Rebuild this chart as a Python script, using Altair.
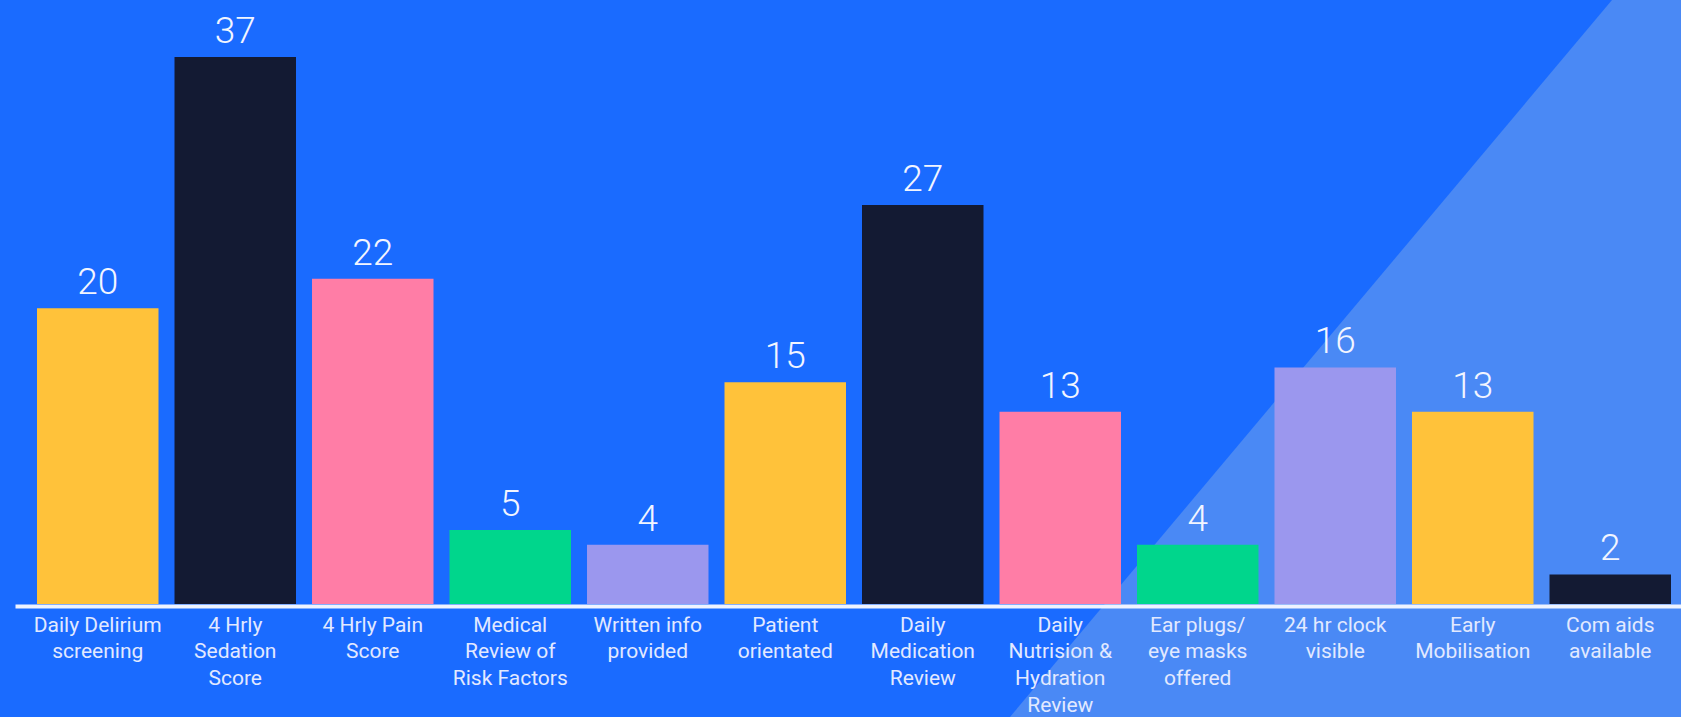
import altair as alt
import pandas as pd

# --- chart data ---
labels = [
    "Daily Delirium|screening",
    "4 Hrly|Sedation|Score",
    "4 Hrly Pain|Score",
    "Medical|Review of|Risk Factors",
    "Written info|provided",
    "Patient|orientated",
    "Daily|Medication|Review",
    "Daily|Nutrision &|Hydration|Review",
    "Ear plugs/|eye masks|offered",
    "24 hr clock|visible",
    "Early|Mobilisation",
    "Com aids|available",
]
values = [20, 37, 22, 5, 4, 15, 27, 13, 4, 16, 13, 2]
bar_colors = [
    "#FFC23A", "#131A33", "#FF7DA6", "#00D68C", "#9B97EE", "#FFC23A",
    "#131A33", "#FF7DA6", "#00D68C", "#9B97EE", "#FFC23A", "#131A33",
]

# decorative lighter triangle in the background (pixel space)
deco_x = [995, 1597, 1666]
deco_y = [717, 0, 0]
deco_y2 = [717, 717, 717]

df = pd.DataFrame({"label": labels, "value": values})
deco = pd.DataFrame({"x": deco_x, "y": deco_y, "y2": deco_y2})

W, H = 1666, 604

tri = alt.Chart(deco).mark_area(color="#4A89F5", opacity=1).encode(
    x=alt.X("x:Q", scale=None, axis=None),
    y=alt.Y("y:Q", scale=None, axis=None),
    y2="y2:Q",
)

xscale = alt.Scale(type="band", paddingInner=0.1164, paddingOuter=0.1164, align=0.6875)
xenc = alt.X(
    "label:N",
    sort=labels,
    scale=xscale,
    axis=alt.Axis(
        title=None,
        labelExpr="split(datum.label, '|')",
        labelAngle=0,
        labelFont="Roboto",
        labelFontSize=21,
        labelColor="#E2E9FF",
        labelLineHeight=26.8,
        labelPadding=8,
        labelBaseline="top",
        ticks=False,
        domainColor="#EEF3FF",
        domainWidth=4,
        offset=2,
        zindex=1,
        labelOverlap=False,
    ),
)
yenc = alt.Y("value:Q", scale=alt.Scale(domain=[0, 40.86]), axis=None)

bars = alt.Chart(df).mark_bar().encode(
    x=xenc,
    y=yenc,
    color=alt.Color("label:N", scale=alt.Scale(domain=labels, range=bar_colors), legend=None),
)

text = alt.Chart(df).mark_text(
    dy=-14, baseline="alphabetic", font="Roboto", fontWeight=300, fontSize=37, color="#F2F5FF"
).encode(
    x=alt.X("label:N", sort=labels, scale=xscale, axis=None, bandPosition=0.5),
    y=yenc,
    text="value:Q",
)

chart = (
    alt.layer(tri, bars, text)
    .resolve_scale(x="independent", y="independent")
    .properties(
        width=W,
        height=H,
        background="#1A6BFF",
        padding={"left": 15, "top": 0, "right": 0, "bottom": 113},
        autosize=alt.AutoSizeParams(type="none"),
    )
    .configure_view(stroke=None)
)

chart.save("out.html", embed_options={"renderer": "svg", "actions": False})
